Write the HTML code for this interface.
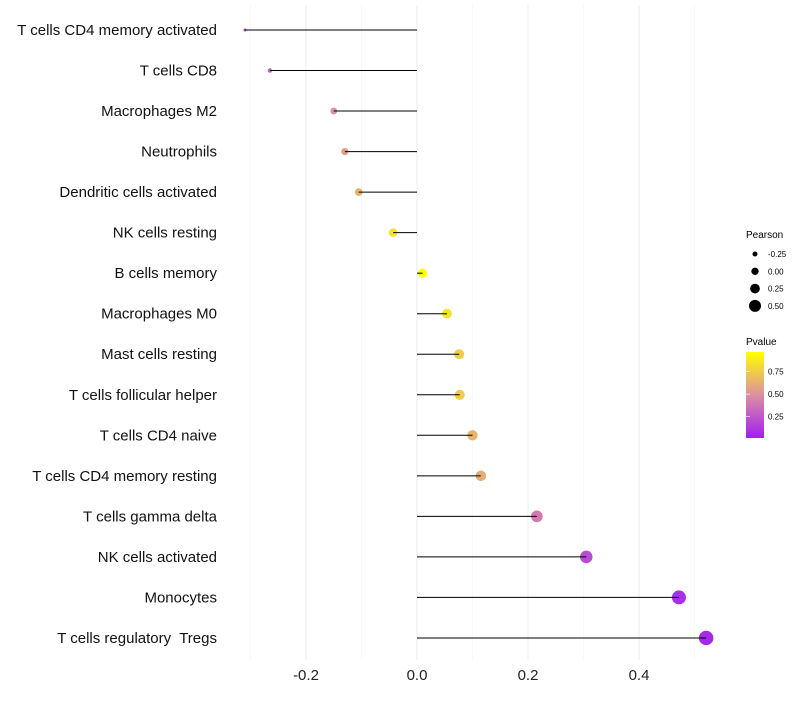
<!DOCTYPE html>
<html><head><meta charset="utf-8"><style>
body{margin:0;background:#fff;font-family:"Liberation Sans",sans-serif}
svg text{font-family:"Liberation Sans",sans-serif;white-space:pre}
</style></head><body>
<svg id="chart" width="800" height="700" xmlns="http://www.w3.org/2000/svg">
<defs><linearGradient id="pg" x1="0" y1="1" x2="0" y2="0">
<stop offset="0" stop-color="#A020F0"/><stop offset="0.5" stop-color="#DC8FA0"/><stop offset="1" stop-color="#FFFF00"/></linearGradient></defs>
<g id="grid"></g>
<g id="dots"></g>
<g id="marks"></g>
<g id="ylabels"></g>
<g id="xlabels"></g>
<g>
<text x="746" y="238" font-size="10">Pearson</text>
<g id="sizeleg"></g>
<text x="746" y="345" font-size="10">Pvalue</text>
<rect x="746" y="352" width="18" height="86" fill="url(#pg)"/>
<g id="colleg"></g>
</g>
</svg>
<script>
const categories=["T cells CD4 memory activated","T cells CD8","Macrophages M2","Neutrophils","Dendritic cells activated","NK cells resting","B cells memory","Macrophages M0","Mast cells resting","T cells follicular helper","T cells CD4 naive","T cells CD4 memory resting","T cells gamma delta","NK cells activated","Monocytes","T cells regulatory  Tregs"];
const pearson=[-0.31,-0.265,-0.15,-0.13,-0.105,-0.043,0.01,0.054,0.076,0.077,0.10,0.115,0.216,0.305,0.472,0.521];
const pvalues=[0.15,0.3,0.5,0.55,0.65,0.85,0.97,0.85,0.75,0.75,0.65,0.62,0.4,0.2,0.08,0.05];
const xTicks=[-0.2,0,0.2,0.4];
const xTickLabels=["-0.2","0.0","0.2","0.4"];
const sizeLegend=[-0.25,0,0.25,0.5];
const colorLegend=[0.25,0.5,0.75];

const NS="http://www.w3.org/2000/svg";
const xs=v=>417+v*555;
const ys=i=>30+i*40.53;
const rs=v=>Math.sqrt(Math.max(2.25,2.25+60*(v+0.31)));
const rl=v=>2.5+(v+0.25)*4.7;
const cy=p=>438-(p-0.01)*(86/0.96);
function col(p){const t=Math.max(0,Math.min(1,(p-0.01)/0.96));
 const a=[160,32,240],m=[220,143,160],b=[255,255,0];let c;
 if(t<0.5){const u=t/0.5;c=a.map((x,k)=>x+(m[k]-x)*u);}else{const u=(t-0.5)/0.5;c=m.map((x,k)=>x+(b[k]-x)*u);}
 return `rgb(${c.map(Math.round).join(",")})`;}
function mk(tag,at,parent){const e=document.createElementNS(NS,tag);for(const k in at)e.setAttribute(k,at[k]);parent.appendChild(e);return e;}
const grid=document.getElementById('grid'),marks=document.getElementById('marks'),dots=document.getElementById('dots'),yl=document.getElementById('ylabels'),xl=document.getElementById('xlabels');
[-0.3,-0.1,0.1,0.3,0.5].forEach(v=>{const l=mk('line',{x1:xs(v),x2:xs(v),y1:5,y2:660,stroke:'#f4f4f4','stroke-width':0.6},grid);

});
xTicks.forEach((v,i)=>{const l=mk('line',{x1:xs(v),x2:xs(v),y1:5,y2:660,stroke:'#ebebeb','stroke-width':1},grid);


const t=mk('text',{x:xs(v),y:680,'font-size':15,'text-anchor':'middle',fill:'#222'},xl);t.textContent=xTickLabels[i];

});
categories.forEach((c,i)=>{const y=ys(i);
const t=mk('text',{x:217,y:y+5,'font-size':15,'text-anchor':'end',fill:'#111'},yl);t.textContent=c;


const d=mk('circle',{cx:xs(pearson[i]),cy:y,r:rs(pearson[i]),fill:col(pvalues[i])},dots);


const l=mk('line',{x1:xs(0),x2:xs(pearson[i]),y1:y,y2:y,stroke:'#000','stroke-width':1},marks);

});
const sl=document.getElementById('sizeleg');
sizeLegend.forEach((v,i)=>{const y=254+i*17.3;
const d=mk('circle',{cx:755,cy:y,r:rl(v),fill:'#000'},sl);


const t=mk('text',{x:768,y:y+3,'font-size':8},sl);t.textContent=v.toFixed(2);

});
const cl=document.getElementById('colleg');
colorLegend.forEach(v=>{const y=cy(v);
const t=mk('text',{x:768,y:y+3,'font-size':8},cl);t.textContent=v.toFixed(2);


const k=mk('line',{x1:746,x2:750,y1:y,y2:y,stroke:'#fff','stroke-width':0.6},cl);

});
</script>
</body></html>
